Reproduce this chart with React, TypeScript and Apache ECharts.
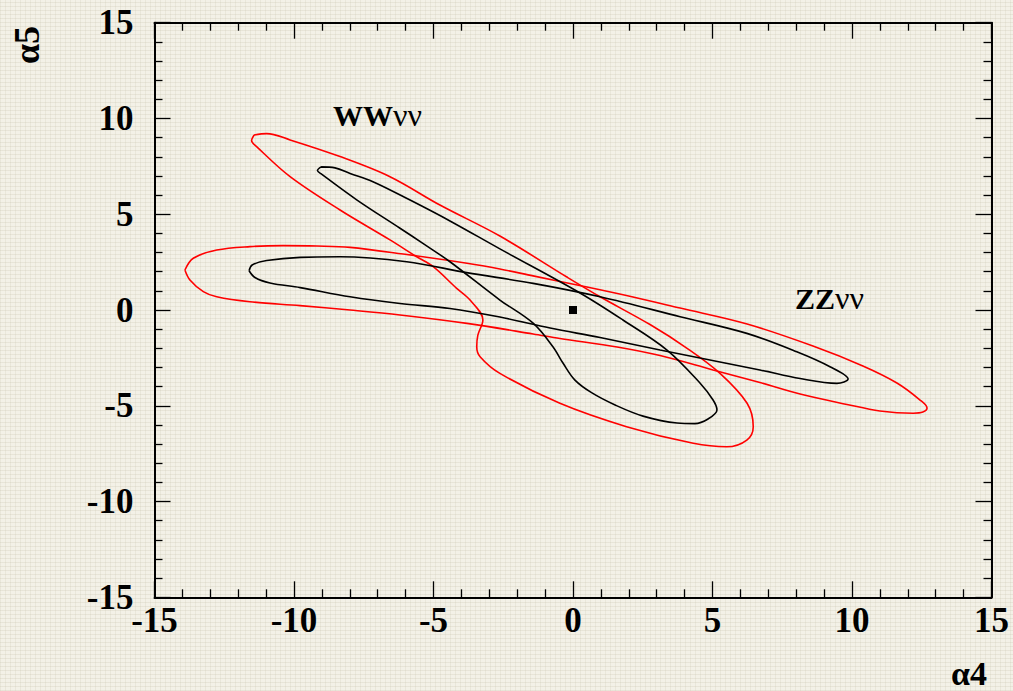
import React, { useEffect, useRef } from "react";
import * as echarts from "echarts";

// Contours, [alpha4, alpha5]
const wwOuter: [number, number][] = [
  [-11.43, 9.14], [-10.98, 9.21], [-10.14, 8.88], [-8.35, 8.01], [-6.56, 6.96],
  [-4.77, 5.48], [-2.62, 3.86], [-0.22, 1.72], [0.97, 0.69], [2.76, -0.76],
  [4.09, -2.0], [5.27, -3.31], [6.24, -4.87], [6.46, -6.09], [6.23, -6.79],
  [5.51, -7.14], [4.31, -6.96], [1.92, -6.09], [-0.47, -4.87], [-2.62, -3.31],
  [-3.33, -2.44], [-3.45, -1.92], [-3.41, -1.31], [-3.23, -0.52], [-3.69, 0.52],
  [-4.17, 1.13], [-5.01, 2.26], [-5.6, 2.78], [-6.56, 3.66], [-8.35, 5.22],
  [-10.14, 6.96], [-11.34, 8.53], [-11.52, 8.85], [-11.43, 9.14],
];

const wwInner: [number, number][] = [
  [-9.03, 7.47], [-8.53, 7.42], [-7.99, 7.13], [-7.17, 6.7], [-5.84, 5.74],
  [-4.41, 4.65], [-2.62, 3.19], [0.25, 0.89], [1.79, -0.52], [3.37, -2.09],
  [4.55, -3.81], [5.02, -4.7], [5.16, -5.22], [4.84, -5.69], [4.37, -5.93],
  [3.73, -5.9], [2.51, -5.54], [1.51, -4.96], [0.68, -4.33], [0.07, -3.66],
  [-0.36, -2.77], [-0.72, -1.92], [-1.43, -0.69], [-2.62, 0.52], [-4.41, 2.52],
  [-5.38, 3.48], [-6.2, 4.27], [-7.74, 5.74], [-9.0, 7.08], [-9.16, 7.28],
  [-9.03, 7.47],
];

const zzOuter: [number, number][] = [
  [-13.91, 2.09], [-13.61, 2.7], [-12.77, 3.13], [-11.58, 3.31], [-10.39, 3.36],
  [-9.18, 3.34], [-7.99, 3.27], [-6.09, 2.92], [-3.8, 2.44], [-2.62, 2.14],
  [-1.43, 1.78], [0.5, 1.2], [2.15, 0.68], [3.84, 0.1], [6.24, -0.73],
  [8.6, -1.88], [10.39, -2.92], [11.61, -3.81], [12.44, -4.7], [12.69, -5.12],
  [12.54, -5.33], [12.19, -5.39], [11.0, -5.27], [9.82, -4.93], [8.14, -4.39],
  [6.7, -3.79], [5.02, -3.13], [3.12, -2.38], [1.58, -1.93], [-0.47, -1.49],
  [-1.43, -1.25], [-3.8, -0.7], [-6.2, -0.26], [-7.99, 0.0], [-9.78, 0.23],
  [-11.58, 0.43], [-12.77, 0.69], [-13.25, 0.96], [-13.73, 1.57], [-13.91, 2.09],
];

const zzInner: [number, number][] = [
  [-11.61, 2.05], [-11.5, 2.35], [-10.98, 2.58], [-9.78, 2.75], [-8.35, 2.78],
  [-5.96, 2.52], [-3.81, 1.95], [-1.43, 1.39], [0.97, 0.69], [3.84, -0.35],
  [6.23, -1.22], [8.02, -2.18], [9.21, -2.96], [9.86, -3.6], [9.46, -3.83],
  [8.14, -3.58], [6.7, -3.13], [4.55, -2.51], [3.12, -2.09], [0.97, -1.44],
  [-0.82, -0.94], [-2.62, -0.37], [-4.41, 0.08], [-6.2, 0.34], [-7.99, 0.69],
  [-9.78, 1.17], [-10.86, 1.41], [-11.4, 1.7], [-11.61, 2.05],
];

const centralPoint: [number, number][] = [[0, 0]];

const processLabels = [
  { name: "WW", value: [-8.6, 10.2] },
  { name: "ZZ", value: [7.96, 0.63] },
];

const AXIS_MIN = -15;
const AXIS_MAX = 15;
const AXIS_STEP = 5;

const FONT = "'Liberation Serif', 'Times New Roman', serif";

function makeAxis(kind: "x" | "y", position: string, showLabel: boolean) {
  return {
    type: "value",
    position,
    min: AXIS_MIN,
    max: AXIS_MAX,
    interval: AXIS_STEP,
    axisLine: { show: true, onZero: false, lineStyle: { color: "#000", width: 2 } },
    axisTick: { show: true, inside: true, length: 16, lineStyle: { color: "#000", width: 1.3 } },
    minorTick: { show: true, splitNumber: 5, length: 8, lineStyle: { color: "#000", width: 1.3 } },
    splitLine: { show: false },
    minorSplitLine: { show: false },
    axisLabel: {
      show: showLabel,
      showMinLabel: true,
      showMaxLabel: true,
      color: "#000",
      fontFamily: FONT,
      fontWeight: "bold",
      fontSize: 35,
      margin: kind === "x" ? 6 : 21,
    },
  };
}

export default function App() {
  const ref = useRef<HTMLDivElement>(null);

  useEffect(() => {
    if (!ref.current) return;
    const chart = echarts.init(ref.current, null, { renderer: "svg" });
    const lineSeries = (data: [number, number][], color: string) => ({
      type: "line",
      data,
      smooth: 0.35,
      symbol: "none",
      silent: true,
      lineStyle: { color, width: 1.6 },
    });
    chart.setOption({
      animation: false,
      backgroundColor: "transparent",
      grid: { left: 154.5, top: 22.7, width: 837, height: 574.6, containLabel: false },
      xAxis: [makeAxis("x", "bottom", true), makeAxis("x", "top", false)],
      yAxis: [makeAxis("y", "left", true), makeAxis("y", "right", false)],
      series: [
        lineSeries(wwOuter, "#ff0000"),
        lineSeries(zzOuter, "#ff0000"),
        lineSeries(wwInner, "#000000"),
        lineSeries(zzInner, "#000000"),
        {
          type: "scatter",
          data: centralPoint,
          symbol: "rect",
          symbolSize: 8,
          silent: true,
          itemStyle: { color: "#000", opacity: 1 },
        },
        {
          type: "scatter",
          data: processLabels,
          symbolSize: 0,
          silent: true,
          itemStyle: { opacity: 1 },
          label: {
            show: true,
            position: "right",
            distance: 0,
            color: "#000",
            formatter: (p: any) => `{b|${p.name}}{n|νν}`,
            rich: {
              b: { fontFamily: FONT, fontWeight: "bold", fontSize: 30, color: "#000", verticalAlign: "bottom" },
              n: { fontFamily: FONT, fontWeight: "normal", fontSize: 32, color: "#000", verticalAlign: "bottom" },
            },
          },
        },
      ],
      graphic: [
        {
          type: "text",
          x: 27,
          y: 45,
          rotation: Math.PI / 2,
          style: {
            text: "α5",
            fontFamily: FONT,
            fontWeight: "bold",
            fontSize: 36,
            fill: "#000",
            align: "center",
            verticalAlign: "middle",
          },
        },
        {
          type: "text",
          x: 969,
          y: 673,
          style: {
            text: "α4",
            fontFamily: FONT,
            fontWeight: "bold",
            fontSize: 34,
            fill: "#000",
            align: "center",
            verticalAlign: "middle",
          },
        },
      ],
    });
    return () => chart.dispose();
  }, []);

  return (
    <div
      style={{
        position: "absolute",
        left: 0,
        top: 0,
        width: 1013,
        height: 691,
        backgroundColor: "#f3f1e7",
        backgroundImage:
          "repeating-linear-gradient(0deg, rgba(190,185,160,0.22) 0px, rgba(190,185,160,0.22) 1px, transparent 1px, transparent 4px), repeating-linear-gradient(90deg, rgba(190,185,160,0.18) 0px, rgba(190,185,160,0.18) 1px, transparent 1px, transparent 5px)",
      }}
    >
      <div ref={ref} style={{ width: 1013, height: 691 }} />
    </div>
  );
}
